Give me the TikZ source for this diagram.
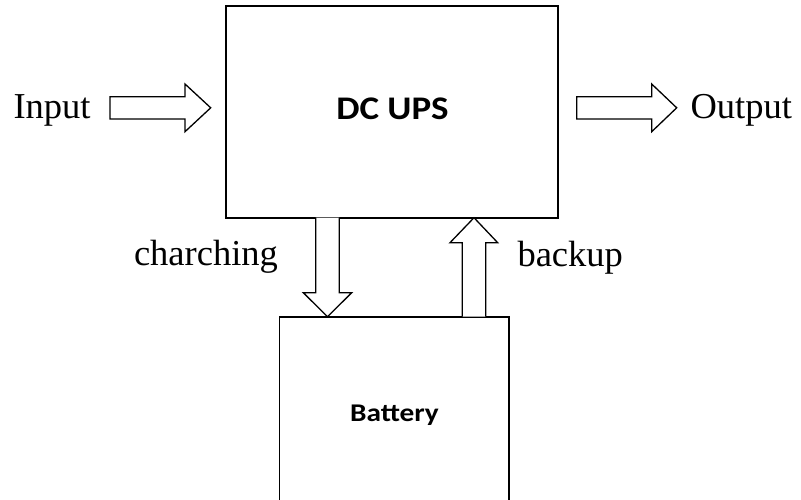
\documentclass[tikz,border=0pt]{standalone}
\usepackage{fontspec}
\setmainfont{Liberation Serif}
\newfontfamily\calib{Carlito}
\begin{document}
\begin{tikzpicture}[x=1pt,y=-1pt,
  box/.style={draw=black, fill=none, inner sep=0pt, outer sep=0pt},
  blockarrow/.style={draw=black, line width=1.3pt, line join=miter, fill=white},
  lbl/.style={inner sep=0pt, outer sep=0pt, font=\fontsize{36.5}{40}\selectfont},
  ttl/.style={inner sep=0pt, outer sep=0pt, font=\calib\bfseries\fontsize{33}{38}\selectfont}]
\useasboundingbox (0,0) rectangle (801,499);
\clip (0,0) rectangle (801,499);
% boxes
\node[box, line width=2pt, minimum width=332.6pt, minimum height=211.5pt] (ups) at (392,111.75) {};
\node[box, line width=1.6pt, minimum width=229.7pt, minimum height=220pt] (bat) at (394.15,426.7) {};
% titles
\node[ttl, anchor=base] (upst) at (392.5,119.3) {\scalebox{1.12}[1]{DC UPS}};
\node[ttl, anchor=base, font=\calib\bfseries\fontsize{25.5}{28}\selectfont] (batt) at (394.5,421.7) {\scalebox{1.15}[1]{Battery}};
% labels
\node[lbl, anchor=base west] (in) at (13.5,118) {Input};
\node[lbl, anchor=base west] (out) at (690.5,118) {Output};
\node[lbl, anchor=base west] (chg) at (134,265) {charching};
\node[lbl, anchor=base west] (bck) at (517.5,266) {backup};
% input arrow
\draw[blockarrow] (110,96.7) -- (185,96.7) -- (185,84) -- (210.7,107.8) -- (185,131.7) -- (185,119) -- (110,119) -- cycle;
% output arrow
\draw[blockarrow] (576.7,96.7) -- (651.7,96.7) -- (651.7,84) -- (676.7,107.8) -- (651.7,131.7) -- (651.7,119) -- (576.7,119) -- cycle;
% charging arrow (down)
\draw[blockarrow] (315.7,217.7) -- (315.7,292.7) -- (303.3,292.7) -- (327.5,316.7) -- (351.7,292.7) -- (339.3,292.7) -- (339.3,217.7);
% backup arrow (up)
\draw[blockarrow] (462.3,316.7) -- (462.3,242.7) -- (450,242.7) -- (474,217.7) -- (497.7,242.7) -- (485.7,242.7) -- (485.7,316.7);
\end{tikzpicture}
\end{document}
